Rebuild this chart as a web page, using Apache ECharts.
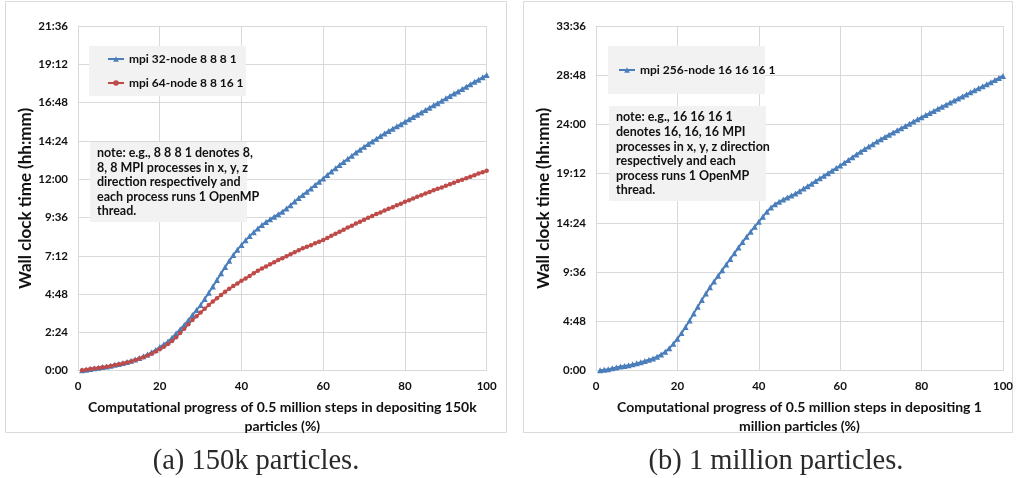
<!DOCTYPE html>
<html>
<head>
<meta charset="utf-8">
<script src="https://cdn.jsdelivr.net/npm/echarts@6/dist/echarts.min.js"></script>
<style>
  html, body { margin: 0; padding: 0; background: #ffffff; }
  #chart { width: 1016px; height: 478px; }
</style>
</head>
<body>
<div id="chart"></div>
<script>
// Progress (%) at which wall clock time was sampled
const progress = [
  1,2,3,4,5,6,7,8,9,10,11,12,13,14,15,16,17,18,19,20,
  21,22,23,24,25,26,27,28,29,30,31,32,33,34,35,36,37,38,39,40,
  41,42,43,44,45,46,47,48,49,50,51,52,53,54,55,56,57,58,59,60,
  61,62,63,64,65,66,67,68,69,70,71,72,73,74,75,76,77,78,79,80,
  81,82,83,84,85,86,87,88,89,90,91,92,93,94,95,96,97,98,99,100
];

// Wall clock time in minutes — 150k particles, 32 nodes (8 8 8 1)
const mpi32 = [
  2,4,6,9,11,14,16,19,22,25,29,33,37,42,48,54,61,69,78,89,
  99,110,124,140,156,172,190,209,228,247,270,293,317,341,366,390,413,435,455,473,
  490,506,521,535,548,559,569,579,588,598,610,622,636,649,661,673,685,698,710,723,
  736,749,761,773,785,797,808,820,831,842,852,862,872,882,892,901,910,919,927,936,
  945,954,962,971,980,989,998,1006,1015,1024,1033,1042,1050,1059,1068,1077,1086,1094,1103,1112
];

// Wall clock time in minutes — 150k particles, 64 nodes (8 8 16 1)
const mpi64 = [
  2,4,6,8,10,13,15,18,21,24,27,31,35,40,45,51,57,64,72,81,
  90,100,112,126,142,158,175,191,205,219,233,247,260,272,285,297,308,318,328,338,
  347,356,366,376,384,392,400,408,416,423,430,438,445,453,460,466,472,479,485,491,
  499,507,515,522,530,538,545,553,560,568,575,582,589,595,602,609,615,622,628,635,
  641,647,654,660,666,672,678,684,689,695,701,707,713,718,724,729,735,741,746,752
];

// Wall clock time in minutes — 1 million particles, 256 nodes (16 16 16 1)
const mpi256 = [
  2,5,9,14,19,24,28,32,37,43,50,57,64,72,82,95,111,131,157,187,
  220,255,294,334,374,413,451,488,522,555,588,621,654,687,720,752,783,813,842,871,
  901,930,955,974,988,1001,1013,1024,1036,1050,1065,1079,1094,1110,1125,1140,1155,1170,1185,1200,
  1216,1232,1249,1265,1281,1296,1311,1325,1340,1354,1367,1380,1393,1406,1418,1431,1444,1457,1470,1483,
  1495,1507,1519,1532,1544,1556,1568,1580,1592,1604,1616,1628,1640,1652,1663,1675,1687,1700,1712,1724
];

// Axis ranges (minutes) and tick steps
const xTicks = [0, 20, 40, 60, 80, 100];
const yMaxA = 1296, yStepA = 144;   // 0:00 … 21:36, every 2:24
const yMaxB = 2016, yStepB = 288;   // 0:00 … 33:36, every 4:48

const nameA = 'mpi 32-node 8 8 8 1';
const nameB = 'mpi 64-node 8 8 16 1';
const nameC = 'mpi 256-node 16 16 16 1';

const noteA = [
  'note: e.g., 8 8 8 1 denotes 8,',
  '8, 8 MPI processes in x, y, z',
  'direction respectively and',
  'each process runs 1 OpenMP',
  'thread.'
];
const noteB = [
  'note: e.g., 16 16 16 1',
  'denotes 16, 16, 16 MPI',
  'processes in x, y, z direction',
  'respectively and each',
  'process runs 1 OpenMP',
  'thread.'
];

const xTitleA = 'Computational progress of 0.5 million steps in depositing 150k\nparticles (%)';
const xTitleB = 'Computational progress of 0.5 million steps in depositing 1\nmillion particles (%)';
const yTitle = 'Wall clock time (hh:mm)';
const captionA = '(a) 150k particles.';
const captionB = '(b) 1 million particles.';

const BLUE = '#4a7ebb';
const RED = '#be4b48';
const GRID = '#d9d9d9';
const FONT = 'Lato';
const INK = '#111111';

const pairs = (vals) => progress.map((p, i) => [p, vals[i]]);
const hhmm = (v) => Math.floor(v / 60) + ':' + String(Math.round(v % 60)).padStart(2, '0');

function xAxisFor(gridIndex, title) {
  return {
    type: 'value', gridIndex, min: xTicks[0], max: xTicks[xTicks.length - 1],
    interval: xTicks[1] - xTicks[0],
    axisLine: { show: true, lineStyle: { color: GRID, width: 1 } },
    axisTick: { show: false },
    splitLine: { show: true, lineStyle: { color: GRID, width: 1 } },
    axisLabel: { color: INK, fontFamily: FONT, fontWeight: 'bold', fontSize: 11.5, margin: 10 },
    name: title, nameLocation: 'middle', nameGap: 18,
    nameTextStyle: { color: INK, fontFamily: FONT, fontWeight: 'bold', fontSize: 14, lineHeight: 19 }
  };
}
function yAxisFor(gridIndex, max, step) {
  return {
    type: 'value', gridIndex, min: 0, max, interval: step,
    axisLine: { show: true, lineStyle: { color: GRID, width: 1 } },
    axisTick: { show: false },
    splitLine: { show: true, lineStyle: { color: GRID, width: 1 } },
    axisLabel: { color: INK, fontFamily: FONT, fontWeight: 'bold', fontSize: 11.5, margin: 10, formatter: hhmm },
    name: yTitle, nameLocation: 'middle', nameGap: 41,
    nameTextStyle: { color: INK, fontFamily: FONT, fontWeight: 'bold', fontSize: 17 }
  };
}
function lineSeries(name, vals, xi, color, symbol, size) {
  return {
    name, type: 'line', xAxisIndex: xi, yAxisIndex: xi, data: pairs(vals),
    symbol, symbolSize: size, showSymbol: true, animation: false,
    lineStyle: { color, width: 2 }, itemStyle: { color }
  };
}
function legendFor(names, left, top) {
  return {
    data: names, orient: 'vertical', left, top, padding: 0,
    itemWidth: 16, itemHeight: 7, itemGap: 10,
    textStyle: { color: INK, fontFamily: FONT, fontWeight: 'bold', fontSize: 12, lineHeight: 14 },
    selectedMode: false
  };
}
function noteBox(x, y, w, h, lines, lineH) {
  return {
    type: 'group', x, y, z: 1,
    children: [
      { type: 'rect', z: 1, shape: { x: 0, y: 0, width: w, height: h }, style: { fill: '#f2f2f2' } },
      { type: 'text', z: 2, x: 7, y: 4, style: {
          text: lines.join('\n'), fill: INK, fontFamily: FONT, fontWeight: 'bold', fontSize: 12.5, lineHeight: lineH
      } }
    ]
  };
}
function caption(text, cx, cy) {
  return { type: 'text', x: cx, y: cy, style: {
    text, fontFamily: '"Liberation Serif", serif', fontSize: 28.5, fill: '#2a2a2a',
    align: 'center', verticalAlign: 'middle'
  } };
}

const chart = echarts.init(document.getElementById('chart'), null, { renderer: 'canvas' });
chart.setOption({
  backgroundColor: '#ffffff',
  animation: false,
  grid: [
    { left: 78, top: 26, width: 408.7, height: 344.7 },
    { left: 596, top: 26, width: 409, height: 344.7 }
  ],
  xAxis: [xAxisFor(0, xTitleA), xAxisFor(1, xTitleB)],
  yAxis: [yAxisFor(0, yMaxA, yStepA), yAxisFor(1, yMaxB, yStepB)],
  legend: [legendFor([nameA, nameB], 107, 52), legendFor([nameC], 618, 63)],
  graphic: [
    // panel frames
    { type: 'rect', shape: { x: 5.5, y: 1.5, width: 501, height: 431 }, style: { fill: 'none', stroke: GRID, lineWidth: 1 }, z: -10 },
    { type: 'rect', shape: { x: 523.5, y: 1.5, width: 489, height: 431 }, style: { fill: 'none', stroke: GRID, lineWidth: 1 }, z: -10 },
    // legend backgrounds
    { type: 'rect', shape: { x: 89, y: 46, width: 157, height: 50 }, style: { fill: '#f2f2f2' }, z: 1 },
    { type: 'rect', shape: { x: 608, y: 46, width: 157, height: 48 }, style: { fill: '#f2f2f2' }, z: 1 },
    // notes
    noteBox(90, 142, 157, 80, noteA, 14.5),
    noteBox(609, 106, 157, 95, noteB, 14.6),
    // captions
    caption(captionA, 256, 462),
    caption(captionB, 776, 462)
  ],
  series: [
    lineSeries(nameA, mpi32, 0, BLUE, 'triangle', 6),
    lineSeries(nameB, mpi64, 0, RED, 'circle', 4.5),
    lineSeries(nameC, mpi256, 1, BLUE, 'triangle', 6)
  ]
});
</script>
</body>
</html>
